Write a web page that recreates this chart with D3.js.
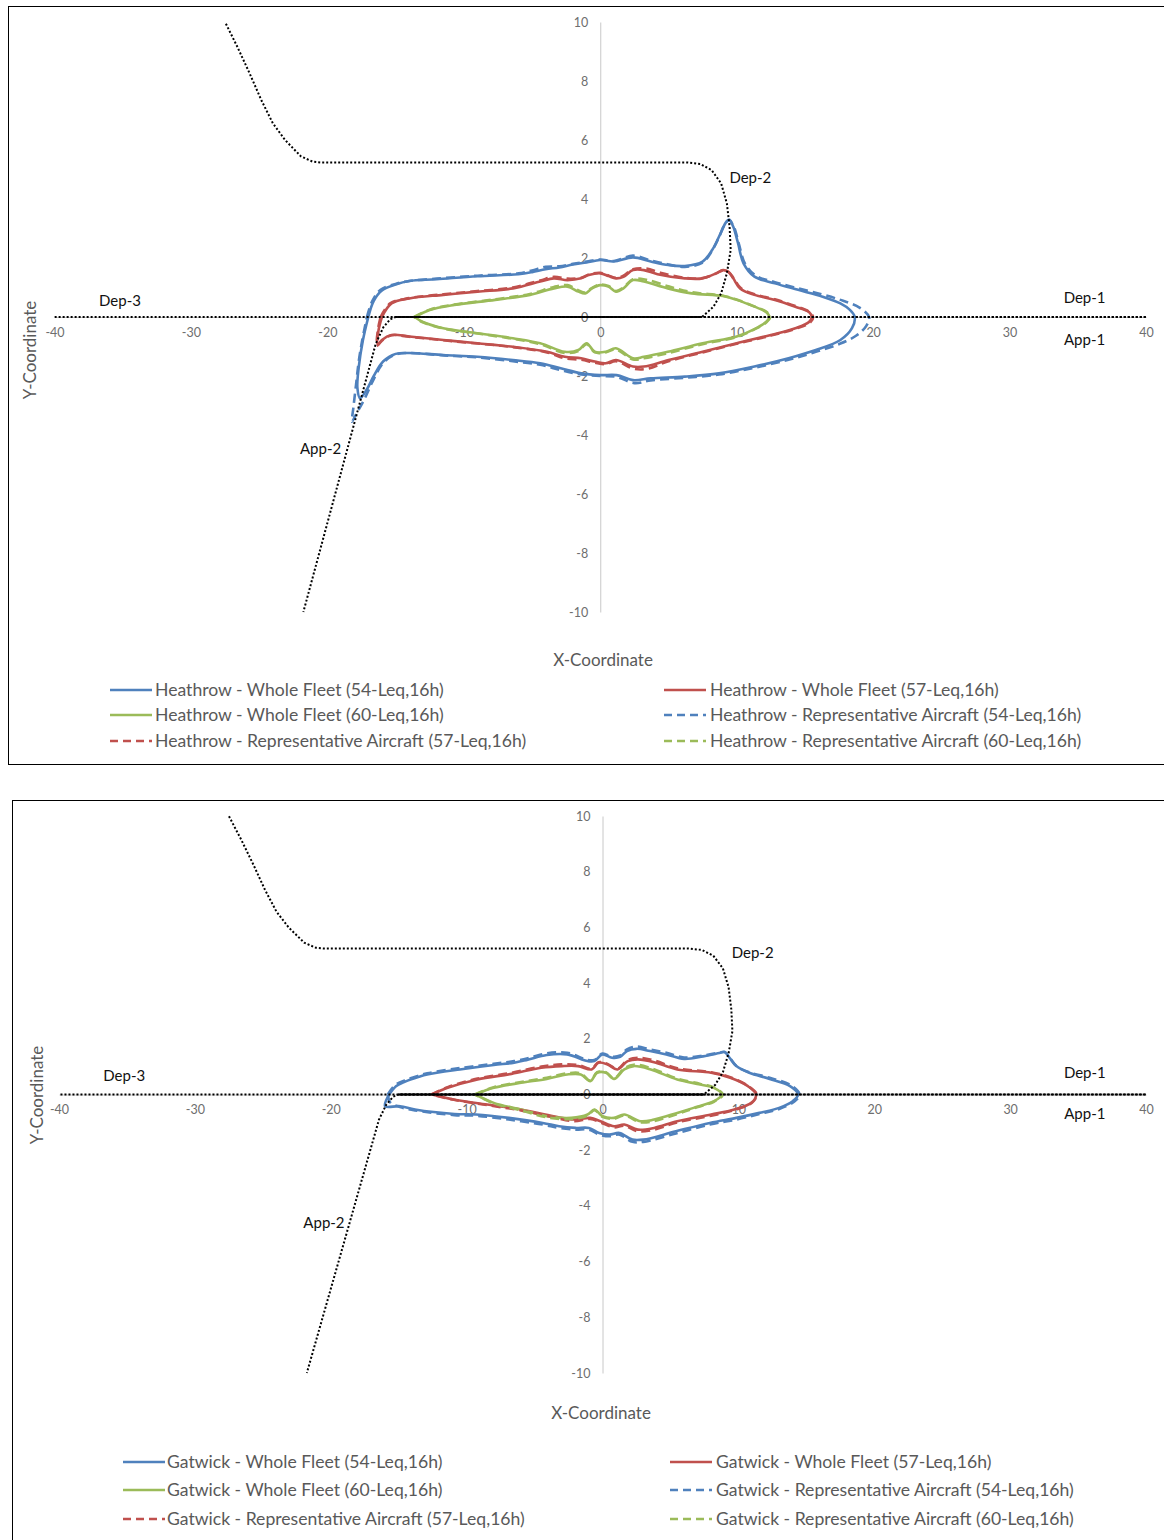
<!DOCTYPE html>
<html><head><meta charset="utf-8">
<script src="https://cdn.jsdelivr.net/npm/d3@7"></script>
<style>body{margin:0;background:#fff}svg{display:block}</style>
</head><body>
<svg id="c" width="1164" height="1540"></svg>
<script>
// ---------- DATA ----------
const xTicks = [-40,-30,-20,-10,0,10,20,30,40];
const yTicks = [-10,-8,-6,-4,-2,0,2,4,6,8,10];
const levels = ["54-Leq,16h","57-Leq,16h","60-Leq,16h"];
const fleetTypes = ["Whole Fleet","Representative Aircraft"];
const airports = ["Heathrow","Gatwick"];

// Heathrow contours
const H54_whole = [[-17.0,0],[-16.6,0.55],[-16.0,0.9],[-15.0,1.1],[-14.0,1.22],[-12.0,1.28],[-9.0,1.38],[-6.0,1.45],[-5.0,1.52],[-4.0,1.62],[-3.0,1.68],[-2.0,1.78],[-1.0,1.85],[0,1.93],[1.0,1.88],[2.4,2.02],[3.7,1.88],[5.0,1.76],[6.2,1.73],[7.5,1.88],[8.2,2.27],[8.7,2.72],[9.2,3.2],[9.45,3.3],[9.75,3.06],[10.1,2.5],[10.5,1.82],[11.3,1.37],[12.8,1.14],[14.5,0.92],[16.3,0.69],[17.6,0.46],[18.3,0.24],[18.65,0],[18.45,-0.38],[17.6,-0.78],[15.8,-1.12],[13.8,-1.4],[11.3,-1.68],[8.7,-1.91],[6.2,-2.02],[3.7,-2.08],[2.4,-2.14],[1.2,-1.97],[0,-1.97],[-1.4,-1.91],[-2.9,-1.74],[-4.4,-1.57],[-6.4,-1.46],[-9.0,-1.35],[-11.5,-1.29],[-14.0,-1.22],[-15.0,-1.25],[-15.9,-1.5],[-16.6,-2.0],[-17.1,-2.45],[-17.6,-2.75],[-17.8,-2.4],[-17.7,-1.7],[-17.4,-0.8],[-17.0,0]];
const H57_whole = [[-16.0,0],[-15.3,0.46],[-14.0,0.63],[-11.5,0.75],[-9.0,0.86],[-6.4,0.97],[-4.4,1.2],[-3.4,1.31],[-2.4,1.25],[-1.4,1.31],[-0.85,1.42],[0,1.48],[0.6,1.39],[1.15,1.31],[1.7,1.36],[2.4,1.59],[3.2,1.59],[4.2,1.45],[6.2,1.31],[7.5,1.31],[8.5,1.48],[9.0,1.59],[9.4,1.53],[9.75,1.31],[10.25,0.97],[11.3,0.75],[12.8,0.58],[14.3,0.35],[15.3,0.17],[15.5,0],[15.3,-0.17],[14.3,-0.38],[12.5,-0.61],[10.0,-0.89],[7.5,-1.18],[5.0,-1.46],[3.2,-1.68],[2.4,-1.68],[1.15,-1.46],[0.4,-1.57],[-0.4,-1.51],[-1.4,-1.4],[-2.6,-1.35],[-3.9,-1.18],[-6.4,-1.01],[-9.0,-0.89],[-11.5,-0.78],[-14.0,-0.66],[-15.3,-0.61],[-16.0,-0.78],[-16.3,-0.95],[-16.25,-0.45],[-16.0,0]];
const H60_whole = [[-13.6,0],[-12.5,0.24],[-10.7,0.41],[-7.7,0.58],[-5.15,0.75],[-3.4,0.97],[-2.4,1.03],[-1.6,0.86],[-1.1,0.8],[-0.6,0.97],[0,1.08],[0.6,1.03],[1.15,0.86],[1.7,0.97],[2.4,1.25],[3.2,1.2],[4.95,0.97],[6.7,0.8],[9.0,0.71],[10.0,0.58],[11.3,0.35],[12.15,0.17],[12.4,0],[12.15,-0.17],[11.3,-0.41],[10.0,-0.66],[7.5,-0.89],[4.95,-1.18],[3.2,-1.35],[2.4,-1.4],[1.15,-1.06],[0.4,-1.18],[-0.4,-1.18],[-1.0,-0.89],[-1.6,-1.12],[-2.6,-1.18],[-4.4,-0.89],[-6.4,-0.72],[-9.0,-0.55],[-11.5,-0.38],[-13.0,-0.17],[-13.6,0]];
const H54_rep = [[-17.1,0],[-16.7,0.55],[-16.1,0.92],[-15.0,1.12],[-14.0,1.22],[-12.0,1.3],[-9.0,1.4],[-6.0,1.48],[-5.0,1.58],[-4.0,1.7],[-3.0,1.72],[-2.0,1.8],[-1.0,1.88],[0,1.95],[1.0,1.9],[2.4,2.08],[3.7,1.92],[5.0,1.78],[6.2,1.7],[7.5,1.84],[8.2,2.25],[8.7,2.7],[9.2,3.2],[9.45,3.28],[9.8,3.05],[10.15,2.5],[10.6,1.82],[11.4,1.4],[12.8,1.18],[14.5,0.97],[16.3,0.76],[17.8,0.55],[19.0,0.32],[19.7,0],[19.5,-0.3],[18.8,-0.62],[17.6,-0.9],[15.8,-1.18],[13.8,-1.45],[11.3,-1.72],[8.7,-1.95],[6.2,-2.06],[3.7,-2.15],[2.5,-2.24],[1.2,-2.03],[0,-2.0],[-1.4,-1.95],[-2.9,-1.8],[-4.4,-1.62],[-6.4,-1.5],[-9.0,-1.37],[-11.5,-1.3],[-14.0,-1.22],[-15.0,-1.27],[-15.9,-1.55],[-16.7,-2.2],[-17.3,-2.8],[-17.9,-3.3],[-18.2,-3.55],[-18.1,-3.1],[-17.9,-2.3],[-17.7,-1.5],[-17.45,-0.8],[-17.1,0]];
const H57_rep = [[-16.1,0],[-15.4,0.46],[-14.0,0.64],[-11.5,0.77],[-9.0,0.88],[-6.4,1.0],[-4.4,1.24],[-3.4,1.36],[-2.4,1.3],[-1.4,1.33],[-0.85,1.44],[0,1.5],[0.6,1.41],[1.15,1.33],[1.7,1.4],[2.4,1.62],[3.4,1.64],[4.4,1.5],[6.2,1.33],[7.5,1.32],[8.5,1.48],[9.0,1.58],[9.4,1.52],[9.8,1.3],[10.3,0.98],[11.3,0.77],[12.8,0.6],[14.3,0.37],[15.3,0.18],[15.6,0],[15.4,-0.18],[14.3,-0.4],[12.5,-0.63],[10.0,-0.91],[7.5,-1.2],[5.0,-1.5],[3.4,-1.76],[2.4,-1.75],[1.15,-1.5],[0.4,-1.6],[-0.4,-1.55],[-1.4,-1.45],[-2.6,-1.4],[-3.9,-1.2],[-6.4,-1.02],[-9.0,-0.9],[-11.5,-0.79],[-14.0,-0.67],[-15.3,-0.62],[-16.0,-0.8],[-16.35,-0.97],[-16.3,-0.45],[-16.1,0]];
const H60_rep = [[-13.65,0],[-12.5,0.25],[-10.7,0.42],[-7.7,0.6],[-5.15,0.78],[-3.4,1.02],[-2.4,1.08],[-1.6,0.9],[-1.1,0.83],[-0.6,0.99],[0,1.1],[0.6,1.05],[1.15,0.88],[1.7,1.0],[2.4,1.28],[3.4,1.26],[5.0,1.04],[6.7,0.84],[9.0,0.72],[10.0,0.59],[11.3,0.36],[12.2,0.17],[12.45,0],[12.2,-0.17],[11.3,-0.42],[10.0,-0.68],[7.5,-0.92],[5.0,-1.22],[3.2,-1.4],[2.4,-1.44],[1.15,-1.1],[0.4,-1.2],[-0.4,-1.2],[-1.0,-0.92],[-1.6,-1.15],[-2.6,-1.22],[-4.4,-0.92],[-6.4,-0.74],[-9.0,-0.56],[-11.5,-0.39],[-13.0,-0.18],[-13.65,0]];

// Gatwick contours
const G54_whole = [[-15.7,0],[-15.2,0.3],[-14.6,0.45],[-13.5,0.64],[-12.9,0.72],[-10.5,0.9],[-8.0,1.06],[-6.5,1.14],[-5.5,1.25],[-4.1,1.42],[-2.6,1.44],[-1.1,1.2],[-0.6,1.2],[0,1.44],[0.7,1.32],[1.3,1.35],[1.8,1.56],[2.5,1.64],[3.5,1.56],[4.7,1.44],[6.0,1.28],[7.4,1.37],[8.6,1.49],[9.0,1.53],[9.35,1.32],[9.85,1.02],[10.8,0.78],[12.3,0.56],[13.8,0.3],[14.4,0],[14.0,-0.24],[13.0,-0.48],[11.55,-0.66],[9.85,-0.84],[7.9,-1.02],[5.4,-1.32],[3.0,-1.62],[2.2,-1.62],[1.25,-1.38],[0.5,-1.44],[-0.25,-1.38],[-1.0,-1.2],[-2.0,-1.2],[-3.2,-1.14],[-4.4,-1.02],[-6.9,-0.84],[-9.3,-0.72],[-10.9,-0.7],[-13.8,-0.54],[-14.9,-0.42],[-16.0,-0.42],[-15.7,0]];
const G57_whole = [[-12.55,0],[-11.4,0.24],[-9.2,0.54],[-6.7,0.74],[-4.5,0.96],[-3.0,1.02],[-1.8,1.02],[-0.8,0.9],[-0.3,1.14],[0.37,1.08],[1.1,0.9],[1.85,1.2],[2.6,1.26],[3.8,1.16],[5.5,0.9],[8.0,0.78],[9.4,0.6],[10.7,0.3],[11.3,0],[10.95,-0.3],[9.7,-0.54],[8.0,-0.72],[5.5,-0.96],[3.8,-1.2],[2.6,-1.26],[1.6,-1.08],[0.85,-1.14],[-0.15,-0.96],[-0.9,-0.84],[-2.1,-0.9],[-3.6,-0.78],[-6.0,-0.54],[-8.5,-0.36],[-10.95,-0.18],[-12.55,0]];
const G60_whole = [[-9.35,0],[-8.0,0.24],[-6.0,0.42],[-4.1,0.56],[-2.6,0.72],[-1.6,0.72],[-0.9,0.48],[-0.4,0.78],[0.25,0.78],[0.85,0.56],[1.6,0.9],[2.3,1.02],[3.55,0.9],[5.5,0.54],[7.2,0.36],[8.2,0.24],[8.8,0],[8.2,-0.24],[6.7,-0.48],[5.5,-0.66],[3.8,-0.9],[2.8,-0.96],[1.6,-0.72],[0.85,-0.84],[0,-0.78],[-0.6,-0.54],[-1.1,-0.72],[-2.3,-0.84],[-4.1,-0.78],[-6.0,-0.54],[-8.0,-0.3],[-9.35,0]];
const G54_rep = [[-15.8,0],[-15.3,0.32],[-14.6,0.5],[-13.5,0.68],[-12.9,0.76],[-10.5,0.95],[-8.0,1.1],[-6.5,1.2],[-5.5,1.3],[-4.1,1.48],[-2.6,1.5],[-1.1,1.24],[-0.6,1.24],[0,1.47],[0.7,1.36],[1.3,1.4],[1.8,1.62],[2.5,1.72],[3.5,1.62],[4.7,1.5],[6.0,1.33],[7.4,1.4],[8.6,1.5],[9.0,1.52],[9.4,1.3],[9.9,1.0],[10.8,0.8],[12.3,0.6],[13.8,0.35],[14.5,0],[14.1,-0.26],[13.0,-0.52],[11.55,-0.7],[9.85,-0.9],[7.9,-1.08],[5.4,-1.4],[3.0,-1.7],[2.2,-1.7],[1.25,-1.44],[0.5,-1.5],[-0.25,-1.44],[-1.0,-1.26],[-2.0,-1.26],[-3.2,-1.2],[-4.4,-1.08],[-6.9,-0.9],[-9.3,-0.76],[-10.9,-0.74],[-13.8,-0.57],[-14.9,-0.45],[-15.6,-0.3],[-15.8,0]];
const G57_rep = [[-12.6,0],[-11.4,0.26],[-9.2,0.57],[-6.7,0.78],[-4.5,1.0],[-3.0,1.08],[-1.8,1.06],[-0.8,0.93],[-0.3,1.16],[0.37,1.1],[1.1,0.92],[1.85,1.24],[2.6,1.32],[3.8,1.22],[5.5,0.94],[8.0,0.8],[9.4,0.62],[10.7,0.31],[11.35,0],[11.0,-0.3],[9.7,-0.56],[8.0,-0.76],[5.5,-1.0],[3.8,-1.26],[2.6,-1.32],[1.6,-1.12],[0.85,-1.18],[-0.15,-1.0],[-0.9,-0.88],[-2.1,-0.96],[-3.6,-0.82],[-6.0,-0.57],[-8.5,-0.38],[-10.95,-0.19],[-12.6,0]];
const G60_rep = [[-9.4,0],[-8.0,0.26],[-6.0,0.45],[-4.1,0.6],[-2.6,0.76],[-1.6,0.76],[-0.9,0.5],[-0.4,0.8],[0.25,0.8],[0.85,0.58],[1.6,0.94],[2.3,1.07],[3.55,0.95],[5.5,0.57],[7.2,0.38],[8.2,0.25],[8.85,0],[8.2,-0.26],[6.7,-0.5],[5.5,-0.7],[3.8,-0.95],[2.8,-1.0],[1.6,-0.75],[0.85,-0.87],[0,-0.8],[-0.6,-0.56],[-1.1,-0.76],[-2.3,-0.88],[-4.1,-0.82],[-6.0,-0.57],[-8.0,-0.32],[-9.4,0]];

// Flight tracks (shared)
const trackDep1 = [[-15,0],[40,0]];
const trackDep2 = [[-15,0],[7.46,0],[8.3,0.35],[8.86,0.8],[9.28,1.48],[9.56,2.27],[9.48,3.06],[9.28,3.85],[8.86,4.53],[8.16,4.98],[7.32,5.19],[6.33,5.24],[-20.5,5.24],[-21.1,5.27],[-21.95,5.45],[-23.1,6.0],[-24.0,6.57],[-24.85,7.36],[-25.7,8.26],[-26.6,9.16],[-27.5,10.0]];
const trackDep3 = [[7.46,0],[-40,0]];
const trackApp1 = [[40,0],[-15,0]];
const trackApp2 = [[-21.76,-10],[-16.45,-0.9],[-15.9,-0.35],[-15.4,-0.08],[-15,0],[7.46,0]];
const trackNames = ["Dep-1","Dep-2","Dep-3","App-1","App-2"];

// ---------- LAYOUT / STYLE ----------
const colors = ["#4F81BD","#C0504D","#9BBB59"];
const FONT = "Lato, 'Open Sans', sans-serif";
const charts = [
  { airport:0, frame:[8.5,6.5,1170,758], xr:[54.5,1146], yr:[612,22],
    whole:[H54_whole,H57_whole,H60_whole], rep:[H54_rep,H57_rep,H60_rep],
    legRows:[690,715,741], legCols:[[110,152,155],[664,706,710]],
    xTitle:[603,660], yTitle:[30,350],
    labels:[["Dep-3",-35.2,0,-16],["Dep-1",35.5,0,-19],["App-1",35.5,0,23],["Dep-2",11.0,4.71,0],["App-2",-20.5,-4.47,0]] },
  { airport:1, frame:[12.5,800.5,1170,800], xr:[59,1146], yr:[1373,816],
    whole:[G54_whole,G57_whole,G60_whole], rep:[G54_rep,G57_rep,G60_rep],
    legRows:[1462,1490,1519], legCols:[[123,165,167],[670,712,716]],
    xTitle:[601,1413], yTitle:[37,1095],
    labels:[["Dep-3",-35.2,0,-19],["Dep-1",35.5,0,-22],["App-1",35.5,0,19],["Dep-2",11.05,5.1,0],["App-2",-20.5,-4.6,0]] }
];

const svg = d3.select("#c");
const tracks = [trackDep1,trackDep2,trackDep3,trackApp1,trackApp2];
const fmt = d => String(d);

charts.forEach(ch => {
  const g = svg.append("g");
  const x = d3.scaleLinear().domain([-40,40]).range(ch.xr);
  const y = d3.scaleLinear().domain([-10,10]).range(ch.yr);
  const [fx,fy,fw,fh] = ch.frame;
  g.append("rect").attr("x",fx).attr("y",fy).attr("width",fw).attr("height",fh)
    .attr("fill","#fff").attr("stroke","#000").attr("stroke-width",1);

  // axes
  const yAxis = d3.axisLeft(y).tickValues(yTicks).tickSize(0).tickPadding(12).tickFormat(fmt);
  const gy = g.append("g").attr("transform",`translate(${x(0)},0)`).call(yAxis);
  const xAxis = d3.axisBottom(x).tickValues(xTicks).tickSize(0).tickPadding(11).tickFormat(fmt);
  const gx = g.append("g").attr("transform",`translate(0,${y(0)})`).call(xAxis);
  [gx,gy].forEach(a => {
    a.select(".domain").attr("stroke","#C8C8C8").attr("stroke-width",1);
    a.selectAll("text").attr("fill","#6E6E6E").attr("font-family",FONT).attr("font-size",12.5);
  });

  // axis titles
  g.append("text").attr("x",ch.xTitle[0]).attr("y",ch.xTitle[1]).attr("dy","0.35em")
    .attr("text-anchor","middle").attr("font-family",FONT).attr("font-size",17).attr("fill","#595959").text("X-Coordinate");
  g.append("text").attr("transform",`translate(${ch.yTitle[0]},${ch.yTitle[1]}) rotate(-90)`).attr("dy","0.35em")
    .attr("text-anchor","middle").attr("font-family",FONT).attr("font-size",17).attr("fill","#595959").text("Y-Coordinate");

  const line = d3.line().x(d=>x(d[0])).y(d=>y(d[1])).curve(d3.curveCatmullRom.alpha(0.5));
  const lineT = d3.line().x(d=>x(d[0])).y(d=>y(d[1])).curve(d3.curveLinear);

  // contours: whole fleet (solid) then representative (dashed)
  ch.whole.forEach((s,i) => g.append("path").attr("d",line(s)).attr("fill","none")
    .attr("stroke",colors[i]).attr("stroke-width",2.6).attr("stroke-linejoin","round"));
  ch.rep.forEach((s,i) => g.append("path").attr("d",line(s)).attr("fill","none")
    .attr("stroke",colors[i]).attr("stroke-width",2.6).attr("stroke-dasharray","9,5"));

  // tracks
  tracks.forEach((t,i) => g.append("path").attr("d",lineT(t)).attr("fill","none")
    .attr("stroke","#000").attr("stroke-width",2).attr("stroke-dasharray","2,2").attr("stroke-dashoffset",i*1.3));

  // track labels
  ch.labels.forEach(([t,lx,ly,off]) => g.append("text").attr("x",x(lx)).attr("y",y(ly)+off).attr("dy","0.35em")
    .attr("text-anchor","middle").attr("font-family",FONT).attr("font-size",15).attr("fill","#111").text(t));

  // legend
  const entries = [];
  fleetTypes.forEach((ft,fi) => levels.forEach((lv,li) => entries.push({
    name:`${airports[ch.airport]} - ${ft} (${lv})`, color:colors[li], dashed:fi===1 })));
  entries.forEach((e,k) => {
    const r = Math.floor(k/2), c = k%2;
    const [x1,x2,tx] = ch.legCols[c]; const yy = ch.legRows[r];
    g.append("line").attr("x1",x1).attr("x2",x2).attr("y1",yy).attr("y2",yy)
      .attr("stroke",e.color).attr("stroke-width",2.6).attr("stroke-dasharray",e.dashed?"8,5":null);
    g.append("text").attr("x",tx).attr("y",yy).attr("dy","0.35em").attr("font-family",FONT)
      .attr("font-size",17.6).attr("fill","#595959").text(e.name);
  });
});
</script>
</body></html>
